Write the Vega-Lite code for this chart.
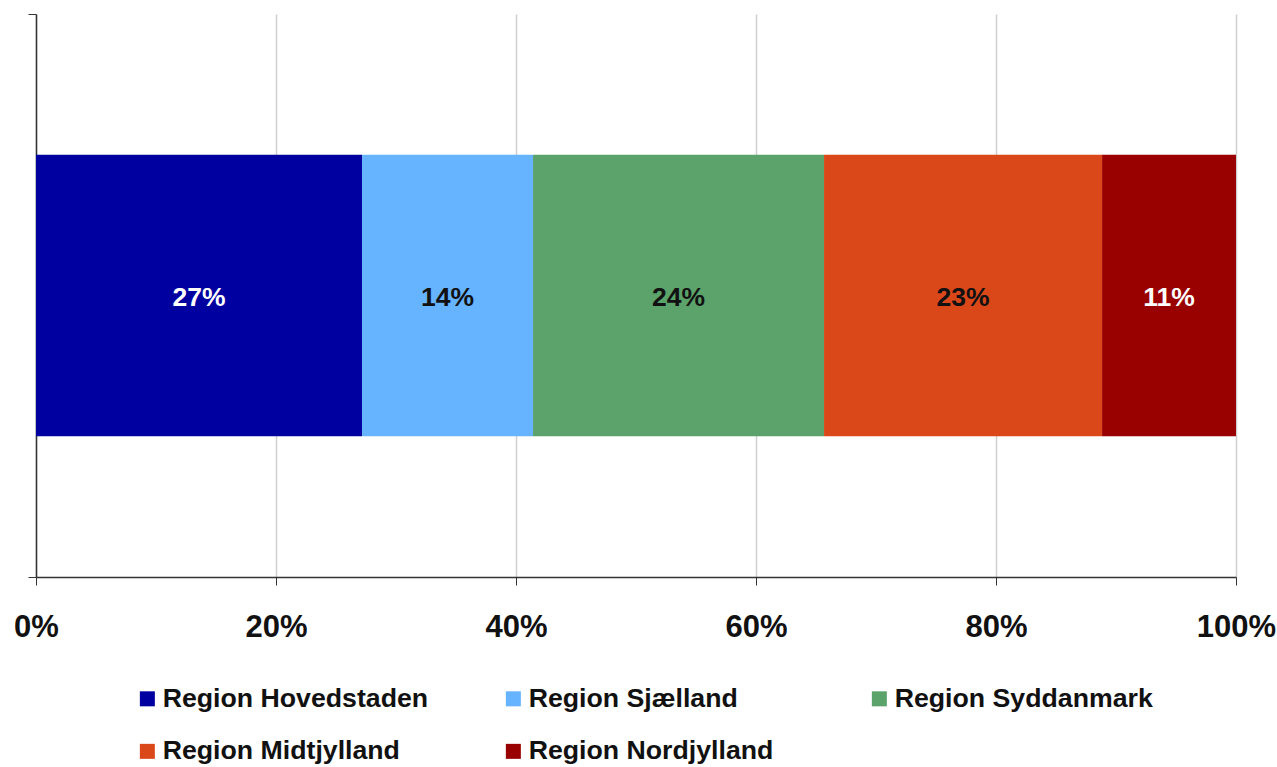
{
  "$schema": "https://vega.github.io/schema/vega-lite/v6.json",
  "autosize": "none",
  "width": 1200,
  "height": 563,
  "padding": {"left": 36, "top": 14, "right": 41, "bottom": 190},
  "background": "white",
  "config": {
    "view": {"stroke": null},
    "font": "Liberation Sans"
  },
  "data": {
    "values": [
      {"region": "Region Hovedstaden", "share": 0.2717, "n": 1},
      {"region": "Region Sjælland", "share": 0.1425, "n": 2},
      {"region": "Region Syddanmark", "share": 0.2425, "n": 3},
      {"region": "Region Midtjylland", "share": 0.2317, "n": 4},
      {"region": "Region Nordjylland", "share": 0.1116, "n": 5}
    ]
  },
  "transform": [
    {"stack": "share", "groupby": [], "sort": [{"field": "n", "order": "ascending"}], "as": ["x0", "x1"]},
    {"calculate": "(datum.x0 + datum.x1) / 2", "as": "mid"}
  ],
  "layer": [
    {
      "mark": {"type": "bar"},
      "encoding": {
        "x": {
          "field": "x0", "type": "quantitative",
          "scale": {"domain": [0, 1], "nice": false, "padding": 0},
          "axis": {
            "title": null, "format": ".0%", "values": [0, 0.2, 0.4, 0.6, 0.8, 1],
            "labelFontSize": 31, "labelFontWeight": "bold", "labelColor": "#111",
            "labelFlush": false, "labelPadding": 27,
            "tickSize": 8, "tickColor": "#333", "domainColor": "#333", "domainWidth": 1.5,
            "gridColor": "#cfcfcf", "gridWidth": 1.5
          }
        },
        "x2": {"field": "x1"},
        "y": {
          "datum": 1, "type": "quantitative",
          "scale": {"domain": [0, 4], "nice": false, "zero": false},
          "axis": {
            "title": null, "values": [0, 4], "labels": false, "grid": false,
            "tickSize": 8, "tickColor": "#333", "domainColor": "#333", "domainWidth": 1.5
          }
        },
        "y2": {"datum": 3},
        "color": {
          "field": "region", "type": "nominal",
          "scale": {
            "domain": ["Region Hovedstaden", "Region Sjælland", "Region Syddanmark", "Region Midtjylland", "Region Nordjylland"],
            "range": ["#0000A0", "#66B3FF", "#5BA36B", "#DA481A", "#990000"]
          },
          "legend": {
            "title": null, "orient": "none", "legendX": 98, "legendY": 671,
            "direction": "horizontal", "columns": 3,
            "gridAlign": "all", "symbolType": "square", "symbolSize": 225,
            "symbolStrokeWidth": 0, "symbolOpacity": 1,
            "labelFontSize": 26.7, "labelFontWeight": "bold", "labelColor": "#111",
            "labelOffset": 2, "columnPadding": 71, "rowPadding": 25,
            "labelLimit": 400
          }
        }
      }
    },
    {
      "mark": {"type": "text", "fontSize": 26.5, "fontWeight": "bold", "baseline": "middle", "align": "center", "dy": 2},
      "encoding": {
        "x": {"field": "mid", "type": "quantitative"},
        "y": {"datum": 2, "type": "quantitative"},
        "text": {"field": "share", "type": "quantitative", "format": ".0%"},
        "color": {
          "condition": {"test": "datum.region === 'Region Hovedstaden' || datum.region === 'Region Nordjylland'", "value": "white"},
          "value": "#111"
        }
      }
    }
  ]
}
